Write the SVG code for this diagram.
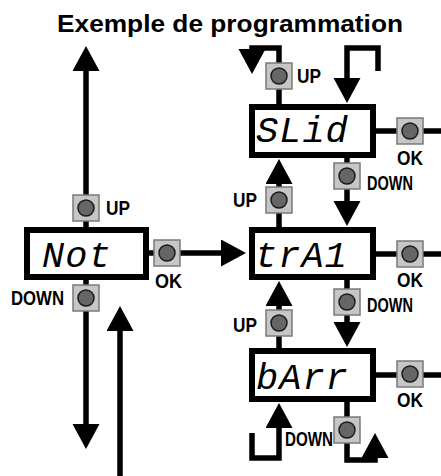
<svg xmlns="http://www.w3.org/2000/svg" width="441" height="476" viewBox="0 0 441 476">
<style>
.ln{fill:none;stroke:#000;stroke-width:5.5;stroke-linejoin:miter;stroke-linecap:butt}
.box{fill:#fff;stroke:#000;stroke-width:6}
.seg{font-family:"Liberation Mono","DejaVu Sans Mono",monospace;font-style:italic;font-size:37px;letter-spacing:1px;fill:#000}
.lbl{font-family:"Liberation Sans",Arial,sans-serif;font-weight:bold;font-size:21px;fill:#000}
.bt{fill:#c6c6c6;stroke:#7a7a7a;stroke-width:1.5}
.dot{fill:#666;stroke:#1a1a1a;stroke-width:1.5}
</style>
<defs>
<marker id="ah" markerUnits="userSpaceOnUse" markerWidth="30" markerHeight="30" refX="1" refY="13.5" orient="auto">
<path d="M0,0 L25,13.5 L0,27 Z" fill="#000"/>
</marker>
</defs>
<rect width="441" height="476" fill="#fff"/>
<text x="57" y="32" class="lbl" style="font-size:24px" textLength="346" lengthAdjust="spacingAndGlyphs">Exemple de programmation</text>

<g id="connectors">
<path class="ln" d="M86,227 V70" marker-end="url(#ah)"/>
<path class="ln" d="M86,280 V425" marker-end="url(#ah)"/>
<path class="ln" d="M120,476 V330" marker-end="url(#ah)"/>
<path class="ln" d="M149,253 H222" marker-end="url(#ah)"/>
<path class="ln" d="M279,104 V48 H252 V50" marker-end="url(#ah)"/>
<path class="ln" d="M378,71 V48 H347 V79" marker-end="url(#ah)"/>
<path class="ln" d="M347,158 V202" marker-end="url(#ah)"/>
<path class="ln" d="M279,227 V183" marker-end="url(#ah)"/>
<path class="ln" d="M347,280 V323" marker-end="url(#ah)"/>
<path class="ln" d="M279,348 V305" marker-end="url(#ah)"/>
<path class="ln" d="M252,433 V458 H279 V427" marker-end="url(#ah)"/>
<path class="ln" d="M347,402 V460 H375 V457" marker-end="url(#ah)"/>
<path class="ln" d="M376,131 H441"/>
<path class="ln" d="M376,254 H441"/>
<path class="ln" d="M376,375 H441"/>
</g>

<g id="node-Not">
<rect class="box" x="27" y="230" width="119" height="47"/>
<text class="seg" x="42" y="267">Not</text>
</g>
<g id="node-SLid">
<rect class="box" x="252" y="107" width="121" height="48"/>
<text class="seg" x="256" y="142">SLid</text>
</g>
<g id="node-trA1">
<rect class="box" x="252" y="230" width="121" height="47"/>
<text class="seg" x="255" y="267">trA1</text>
</g>
<g id="node-bArr">
<rect class="box" x="252" y="351" width="121" height="48"/>
<text class="seg" x="256" y="389">bArr</text>
</g>

<g id="buttons">
<g id="btn-not-up"><rect class="bt" x="73" y="195" width="26" height="26"/><circle class="dot" cx="86" cy="208" r="8"/><text class="lbl" x="106" y="215" textLength="24" lengthAdjust="spacingAndGlyphs">UP</text></g>
<g id="btn-not-down"><rect class="bt" x="73" y="285" width="26" height="26"/><circle class="dot" cx="86" cy="298" r="8"/><text class="lbl" x="11" y="305" textLength="53" lengthAdjust="spacingAndGlyphs">DOWN</text></g>
<g id="btn-not-ok"><rect class="bt" x="154" y="240" width="26" height="26"/><circle class="dot" cx="167" cy="253" r="8"/><text class="lbl" x="155" y="288" textLength="27" lengthAdjust="spacingAndGlyphs">OK</text></g>

<g id="btn-slid-up"><rect class="bt" x="266" y="63" width="26" height="26"/><circle class="dot" cx="279" cy="76" r="8"/><text class="lbl" x="297" y="83" textLength="24" lengthAdjust="spacingAndGlyphs">UP</text></g>
<g id="btn-slid-ok"><rect class="bt" x="397" y="118" width="26" height="26"/><circle class="dot" cx="410" cy="131" r="8"/><text class="lbl" x="397" y="165" textLength="26" lengthAdjust="spacingAndGlyphs">OK</text></g>
<g id="btn-slid-down"><rect class="bt" x="334" y="163" width="26" height="26"/><circle class="dot" cx="347" cy="176" r="8"/><text class="lbl" x="367" y="190" textLength="46" lengthAdjust="spacingAndGlyphs">DOWN</text></g>

<g id="btn-tra1-up"><rect class="bt" x="266" y="187" width="26" height="26"/><circle class="dot" cx="279" cy="200" r="8"/><text class="lbl" x="233" y="207" textLength="24" lengthAdjust="spacingAndGlyphs">UP</text></g>
<g id="btn-tra1-ok"><rect class="bt" x="397" y="241" width="26" height="26"/><circle class="dot" cx="410" cy="254" r="8"/><text class="lbl" x="397" y="287" textLength="26" lengthAdjust="spacingAndGlyphs">OK</text></g>
<g id="btn-tra1-down"><rect class="bt" x="334" y="289" width="26" height="26"/><circle class="dot" cx="347" cy="302" r="8"/><text class="lbl" x="367" y="312" textLength="46" lengthAdjust="spacingAndGlyphs">DOWN</text></g>

<g id="btn-barr-up"><rect class="bt" x="266" y="310" width="26" height="26"/><circle class="dot" cx="279" cy="323" r="8"/><text class="lbl" x="233" y="332" textLength="24" lengthAdjust="spacingAndGlyphs">UP</text></g>
<g id="btn-barr-ok"><rect class="bt" x="397" y="361" width="26" height="26"/><circle class="dot" cx="410" cy="374" r="8"/><text class="lbl" x="397" y="407" textLength="26" lengthAdjust="spacingAndGlyphs">OK</text></g>
<g id="btn-barr-down"><rect class="bt" x="334" y="417" width="26" height="26"/><circle class="dot" cx="347" cy="430" r="8"/><text class="lbl" x="285" y="446" textLength="48" lengthAdjust="spacingAndGlyphs">DOWN</text></g>
</g>
</svg>
